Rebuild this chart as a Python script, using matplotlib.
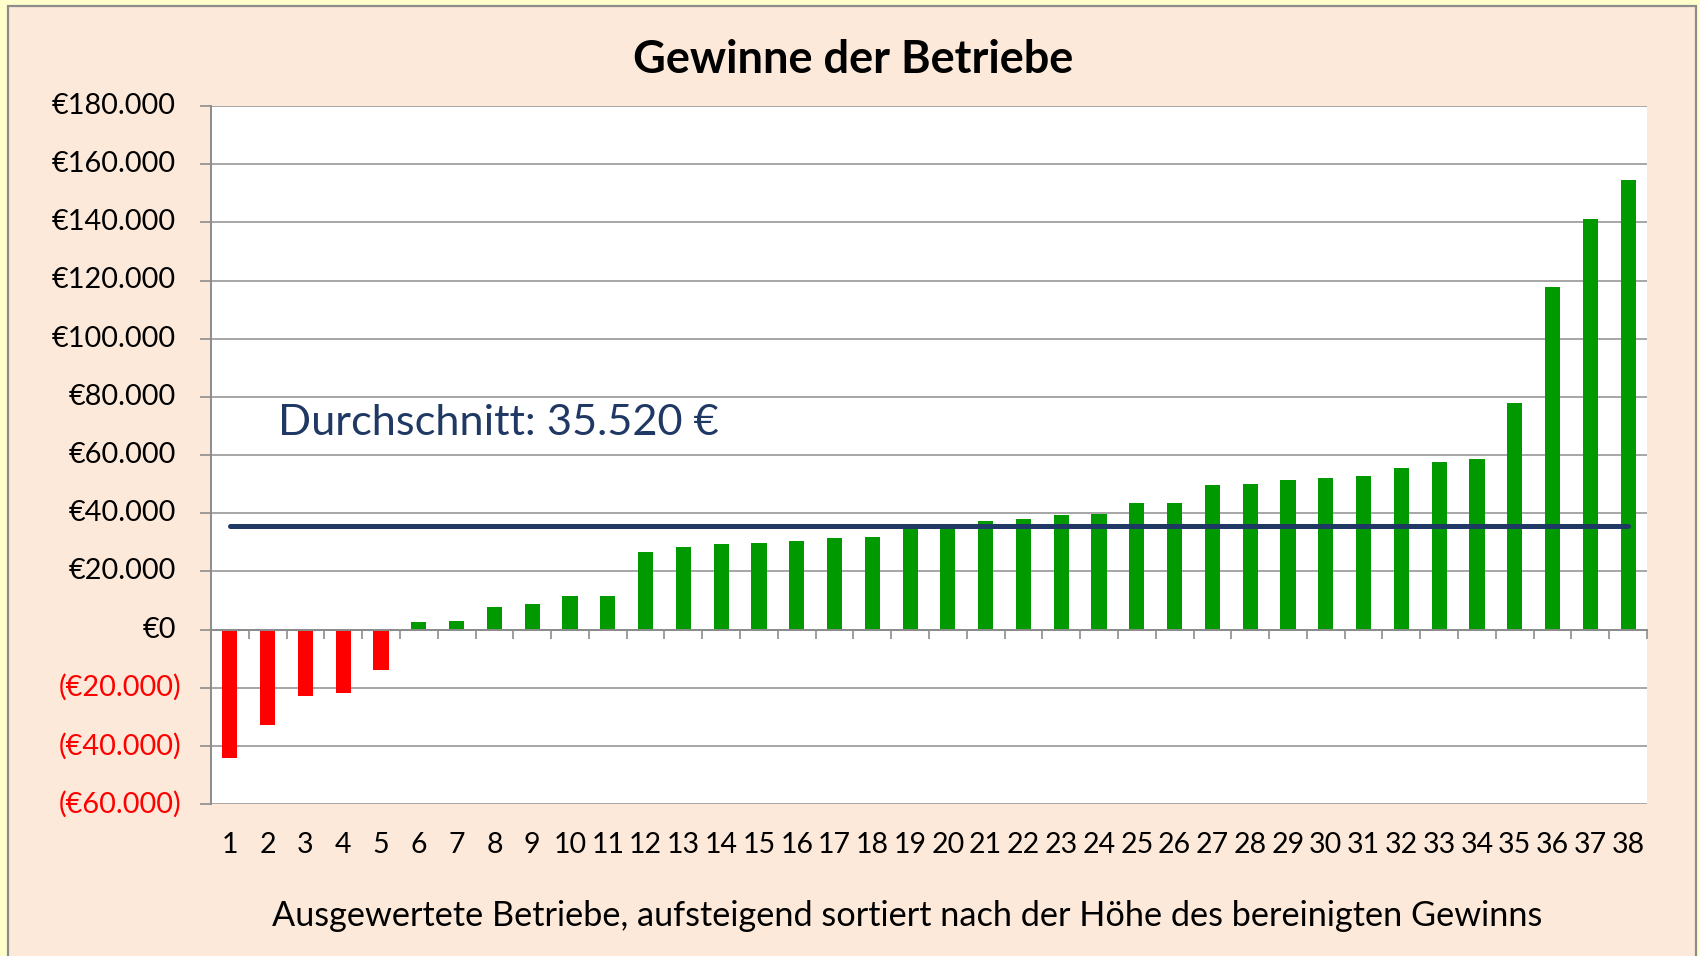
import matplotlib
matplotlib.use("Agg")
import matplotlib.pyplot as plt
from matplotlib.patches import Rectangle
from matplotlib.ticker import FixedLocator
import matplotlib.transforms as mtransforms

# ---- data ----
categories = list(range(1, 39))
profits = [-44200, -32800, -23000, -21800, -13800,
           2600, 3000, 7800, 8700, 11400, 11400,
           26700, 28500, 29400, 29900, 30300, 31300, 31700,
           35000, 35800, 37400, 37900, 39200, 39800, 43500, 43500,
           49700, 50200, 51500, 52000, 52800, 55500, 57700, 58600,
           78000, 117900, 141200, 154500]
average = 35520
ytick_values = [-60000, -40000, -20000, 0, 20000, 40000, 60000, 80000,
                100000, 120000, 140000, 160000, 180000]
title_text = "Gewinne der Betriebe"
avg_label = "Durchschnitt: 35.520 €"
xlabel_text = "Ausgewertete Betriebe, aufsteigend sortiert nach der Höhe des bereinigten Gewinns"


def fmt_euro(v):
    s = f"{abs(v):,}".replace(",", ".")
    return f"(€{s})" if v < 0 else f"€{s}"


W, H = 1700, 956
plt.rcParams['font.family'] = ['Lato', 'DejaVu Sans']
fig = plt.figure(figsize=(W / 100, H / 100), dpi=100, facecolor='#FFFFCC')

# chart area background with border
bg = Rectangle((8 / W, -0.02), (1696 - 8) / W, (H - 6) / H + 0.02,
               transform=fig.transFigure, facecolor='#FDE9D9',
               edgecolor='#8C8C8C', linewidth=1.6, zorder=-10)
fig.patches.append(bg)

left, right, top, bottom = 211, 1647, 106, 804
ax = fig.add_axes([left / W, 1 - bottom / H, (right - left) / W, (bottom - top) / H])
ax.set_facecolor('white')

grid_col = '#A6A6A6'
axis_col = '#8C8C8C'

colors = ['#FF0000' if v < 0 else '#009900' for v in profits]
ax.bar(categories, profits, width=0.4, color=colors, zorder=3)

ax.plot([categories[0], categories[-1]], [average, average], color='#1F3864',
        lw=3.6, solid_capstyle='round', zorder=4)

ax.set_xlim(0.5, len(categories) + 0.5)
ax.set_ylim(ytick_values[0], ytick_values[-1])
ax.set_yticks(ytick_values)
ax.yaxis.grid(True, color=grid_col, lw=1.4, zorder=0)
ax.set_axisbelow(True)

for s in ['top', 'right']:
    ax.spines[s].set_visible(False)
ax.spines['left'].set_color(axis_col)
ax.spines['left'].set_linewidth(1.4)
ax.spines['bottom'].set_position(('data', 0))
ax.spines['bottom'].set_color(axis_col)
ax.spines['bottom'].set_linewidth(1.4)
ax.spines['bottom'].set_zorder(5)

ax.tick_params(axis='y', direction='out', length=8, width=1.2, color=axis_col,
               labelleft=False)
ax.set_xticks(categories)
ax.xaxis.set_minor_locator(FixedLocator([c + 0.5 for c in [0] + categories]))
ax.tick_params(axis='x', which='major', length=0, labelbottom=False)
ax.tick_params(axis='x', which='minor', direction='out', length=6.5, width=1.2,
               color=axis_col)

# y labels (Excel style: positive padded for closing parenthesis)
ytrans = mtransforms.blended_transform_factory(fig.transFigure, ax.transData)
for v in ytick_values:
    if v < 0:
        ax.text(181 / W, v, fmt_euro(v), transform=ytrans, ha='right', va='center',
                fontsize=20.8, color='#FF0000')
    else:
        ax.text(176 / W, v, fmt_euro(v), transform=ytrans, ha='right', va='center',
                fontsize=20.8, color='black')

# category labels at the bottom
sec = ax.secondary_xaxis(0.0)
sec.set_xticks(categories)
sec.set_xticklabels([str(c) for c in categories], fontsize=20.5)
sec.tick_params(length=0, pad=20)
sec.spines['bottom'].set_visible(False)

fig.text(853 / W, 1 - 60 / H, title_text, ha='center', va='center',
         fontsize=32.5, fontweight='bold', color='black')
fig.text(278 / W, 1 - 423 / H, avg_label, ha='left', va='center',
         fontsize=31.2, color='#1F3864')
fig.text(907 / W, 1 - 916 / H, xlabel_text, ha='center', va='center',
         fontsize=24.7, color='black')

fig.savefig('out.png', dpi=100, facecolor=fig.get_facecolor())
